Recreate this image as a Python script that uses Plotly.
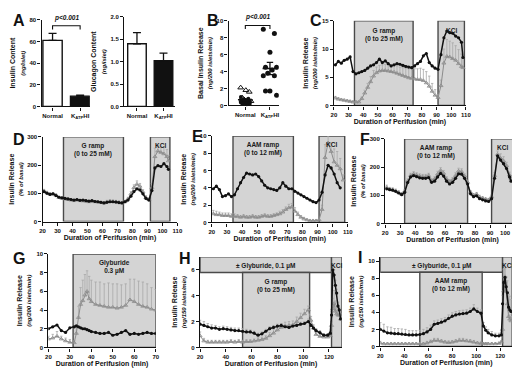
import plotly.graph_objects as go

W, H = 520, 368
FONT = "Liberation Sans, Arial, sans-serif"
BLACK = "#111111"
GRAY = "#8c8c8c"
ERRGRAY = "#a8a8a8"
BOXFILL = "#d4d4d4"
BOXLINE = "#4a4a4a"

# ------------------------------------------------------------------ data
groups = ["Normal", "K<sub>ATP</sub>HI"]
A_insulin = [61, 9.5]
A_insulin_sem = [6.5, 1.0]
A_glucagon = [1.40, 1.02]
A_glucagon_sem = [0.25, 0.17]

B_normal_tri = [2.1, 1.6, 1.8, 0.9, 0.5, 0.3, 0.7]
B_normal_dot = [1.0, 0.8, 0.6, 0.6, 0.5, 0.4, 0.4, 0.35, 0.3, 0.25, 0.2, 0.2, 0.15, 0.6, 0.5]
B_katp = [9.0, 8.5, 6.3, 4.5, 4.5, 4.2, 3.8, 3.5, 3.5, 1.7, 1.7, 1.2]

C_time = [21, 23, 25, 27, 29, 31, 33, 35, 37, 39, 41, 43, 45, 47, 49, 51, 53, 55, 57, 59, 61, 63,
          65, 67, 69, 71, 73, 75, 77, 79, 81, 83, 85, 87, 89, 91, 93, 95, 97, 99, 101, 103, 105, 107, 108]
C_katp = [7.2, 7.8, 7.5, 8.0, 8.2, 8.6, 6.0, 5.6, 5.8, 6.0, 6.2, 6.6, 7.0, 7.2, 7.6, 8.2, 7.6, 7.9, 7.4, 7.0,
          7.2, 7.4, 7.3, 7.1, 6.9, 6.8, 6.7, 7.0, 7.4, 7.8, 8.8, 9.2, 7.6, 7.0, 6.6, 6.4, 9.0, 12.0, 13.2,
          12.9, 12.8, 12.3, 12.0, 11.2, 8.5]
C_normal = [1.3, 1.1, 1.0, 0.9, 0.8, 0.7, 0.6, 0.6, 0.6, 1.2, 2.2, 3.2, 4.2, 5.2, 5.8, 6.1, 6.2, 6.2, 6.1,
            6.0, 5.9, 5.7, 5.5, 5.3, 5.1, 4.9, 4.8, 4.7, 4.6, 4.6, 4.4, 4.0, 3.4, 2.5, 1.8, 1.4, 3.5, 7.5,
            8.7, 8.6, 8.3, 8.0, 7.4, 6.9, 6.7]
C_normal_err = [0.3, 0.3, 0.2, 0.2, 0.2, 0.2, 0.2, 0.2, 0.2, 0.3, 0.5, 0.7, 0.9, 1.0, 1.0, 1.0, 1.0, 1.1,
                1.1, 1.1, 1.2, 1.3, 1.3, 1.4, 1.5, 1.6, 1.7, 1.8, 1.9, 2.0, 2.0, 2.0, 1.8, 1.4, 1.0, 0.5,
                1.0, 2.5, 3.0, 2.8, 2.8, 2.6, 2.5, 2.2, 2.0]

D_time = [21, 23, 25, 27, 29, 31, 33, 35, 37, 39, 41, 43, 45, 47, 49, 51, 53, 55, 57, 59, 61, 63,
          65, 67, 69, 71, 73, 75, 77, 79, 81, 83, 85, 87, 89, 91, 93, 95, 97, 99, 101, 103, 104]
D_katp = [106, 100, 96, 98, 92, 86, 84, 82, 80, 78, 76, 78, 75, 76, 74, 72, 74, 71, 70, 68, 66, 68,
          70, 70, 69, 67, 66, 70, 76, 90, 106, 116, 112, 98, 82, 76, 110, 190, 198, 195, 205, 195, 185]
D_normal = [108, 102, 97, 98, 93, 85, 82, 80, 78, 76, 74, 76, 74, 73, 72, 70, 72, 70, 69, 67, 66, 70,
            72, 71, 70, 68, 66, 70, 80, 98, 120, 132, 125, 105, 85, 78, 120, 230, 250, 245, 240, 230, 215]
D_normal_err = [6, 5, 5, 5, 5, 4, 4, 4, 4, 4, 4, 4, 4, 4, 4, 4, 4, 4, 4, 4, 4, 5, 5, 5, 5, 4, 4, 5,
                6, 8, 10, 12, 10, 8, 6, 5, 15, 30, 20, 20, 25, 25, 20]

E_time_k = [21, 23, 25, 27, 29, 31, 33, 35, 37, 39, 41, 43, 45, 47, 49, 51, 53, 55, 57, 59, 61, 63,
            65, 67, 69, 71, 73, 75, 77, 79, 81, 83, 85, 87, 89, 91, 93, 95, 97, 99, 101, 103, 105]
E_katp = [3.9, 4.2, 3.8, 3.0, 3.1, 3.3, 3.0, 3.2, 3.9, 4.6, 5.2, 5.7, 5.6, 5.5, 5.6, 5.3, 4.8, 4.3, 4.0,
          3.9, 3.8, 3.7, 4.0, 4.6, 4.2, 3.9, 3.9, 3.6, 3.4, 3.2, 3.0, 2.8, 2.6, 2.4, 2.3, 2.6, 3.5, 5.5,
          6.6, 6.3, 5.6, 4.6, 4.0]
E_time_n = [21, 23, 25, 27, 29, 31, 33, 35, 37, 39, 41, 43, 45, 47, 49, 51, 53, 55, 57, 59, 61, 63,
            65, 67, 69, 71, 73, 75, 77, 79, 81, 83, 85, 87, 89, 91, 93, 95, 97, 99, 101, 103, 105, 107]
E_normal = [1.0, 0.9, 0.9, 0.8, 0.8, 0.8, 0.7, 0.7, 0.7, 0.6, 0.7, 0.6, 0.6, 0.7, 0.6, 0.6, 0.7, 0.8,
            0.7, 0.7, 0.8, 0.9, 1.0, 1.2, 1.5, 1.7, 1.8, 1.3, 0.9, 0.6, 0.4, 0.3, 0.2, 0.2, 0.2, 0.3,
            1.5, 7.5, 9.2, 8.2, 7.0, 6.6, 6.2, 4.9]
E_normal_err = [0.4, 0.4, 0.3, 0.3, 0.3, 0.3, 0.3, 0.3, 0.2, 0.2, 0.2, 0.2, 0.2, 0.2, 0.2, 0.2, 0.2,
                0.2, 0.2, 0.2, 0.2, 0.2, 0.3, 0.3, 0.3, 0.4, 0.4, 0.4, 0.3, 0.2, 0.2, 0.1, 0.1, 0.1,
                0.1, 0.1, 0.5, 1.5, 0.8, 1.0, 1.5, 1.6, 1.2, 0.6]

F_time = [21, 23, 25, 27, 29, 31, 33, 35, 37, 39, 41, 43, 45, 47, 49, 51, 53, 55, 57, 59, 61, 63,
          65, 67, 69, 71, 73, 75, 77, 79, 81, 83, 85, 87, 89, 91, 93, 95, 97, 99, 101, 103, 104]
F_katp = [123, 120, 118, 114, 108, 102, 110, 145, 165, 170, 166, 162, 160, 160, 163, 146, 150, 165,
          178, 168, 150, 140, 146, 160, 176, 175, 160, 140, 105, 95, 98, 88, 84, 80, 78, 88, 160, 240,
          225, 212, 195, 165, 150]
F_normal = [128, 122, 120, 116, 110, 104, 114, 150, 170, 176, 172, 168, 166, 166, 170, 152, 158, 175,
            188, 178, 158, 148, 155, 170, 186, 184, 168, 146, 110, 100, 104, 94, 90, 86, 84, 95, 170,
            245, 232, 222, 205, 172, 158]
F_normal_err = [8, 6, 6, 6, 6, 6, 6, 8, 8, 8, 8, 8, 8, 8, 8, 8, 8, 10, 10, 10, 8, 8, 8, 10, 10, 10,
                8, 8, 6, 6, 6, 6, 5, 5, 5, 6, 10, 12, 15, 15, 12, 10, 8]

G_time = [20, 22, 24, 26, 28, 30, 32, 33, 34, 35, 36, 37, 38, 39, 40, 42, 44, 46, 48, 50, 52, 54, 56,
          58, 60, 62, 64, 66, 68, 70]
G_katp = [2.0, 2.2, 2.4, 1.8, 1.6, 2.1, 2.2, 2.3, 2.2, 2.1, 2.0, 2.0, 1.9, 1.8, 1.7, 1.6, 1.5, 1.5,
          1.6, 1.3, 1.4, 1.6, 1.8, 1.4, 1.5, 1.4, 1.5, 1.6, 1.5, 1.5]
G_normal = [0.9, 1.0, 1.2, 0.9, 0.7, 0.55, 0.5, 1.5, 3.2, 4.6, 5.0, 5.6, 6.0, 5.2, 4.9, 4.6, 4.5, 4.4,
            4.3, 4.3, 4.2, 4.3, 4.5, 5.1, 4.9, 4.6, 4.4, 4.3, 4.1, 4.0]
G_normal_err = [0.3, 0.4, 0.5, 0.3, 0.3, 0.3, 0.2, 0.6, 1.2, 1.8, 2.2, 2.2, 2.2, 2.4, 2.3, 2.4, 2.5,
                2.4, 2.6, 2.5, 2.6, 2.4, 2.3, 2.2, 2.4, 2.5, 2.6, 2.5, 2.3, 2.2]

H_time = [20, 23, 26, 29, 32, 35, 38, 41, 44, 47, 50, 53, 56, 59, 62, 65, 68, 71, 74, 77, 80, 83, 86,
          89, 92, 95, 98, 101, 104, 106, 108, 110, 113, 116, 119, 121, 122, 123, 124, 125, 126, 127, 128, 129]
H_katp = [1.8, 1.7, 1.6, 1.5, 1.5, 1.4, 1.45, 1.4, 1.35, 1.3, 1.3, 1.25, 1.2, 1.2, 1.1, 0.95, 1.05,
          1.25, 1.45, 1.55, 1.65, 1.7, 1.6, 1.55, 1.65, 1.7, 1.8, 1.85, 2.0, 1.7, 1.5, 1.3, 1.15, 0.95,
          0.95, 1.1, 2.5, 6.0, 5.6, 4.8, 4.2, 3.2, 2.9, 2.2]
H_katp_err = [0.3, 0.3, 0.25, 0.25, 0.2, 0.2, 0.2, 0.2, 0.2, 0.2, 0.2, 0.2, 0.2, 0.15, 0.15, 0.15, 0.15,
              0.15, 0.15, 0.15, 0.15, 0.15, 0.15, 0.15, 0.15, 0.15, 0.15, 0.15, 0.2, 0.15, 0.15, 0.15,
              0.15, 0.1, 0.1, 0.1, 0.3, 0.3, 0.4, 0.4, 0.3, 0.3, 0.2, 0.2]
H_normal = [0.9, 0.5, 0.4, 0.4, 0.4, 0.4, 0.4, 0.4, 0.45, 0.4, 0.45, 0.4, 0.45, 0.45, 0.5, 0.55, 0.6,
            0.7, 0.9, 1.1, 1.35, 1.55, 1.65, 1.7, 1.75, 2.0, 2.3, 2.6, 2.9, 2.1, 1.5, 1.0, 0.85, 0.8,
            0.8, 0.9, 1.7, 3.0, 3.4, 2.8, 2.6, 2.5, 2.5, 2.2]
H_normal_err = [0.3, 0.2, 0.15, 0.15, 0.15, 0.15, 0.15, 0.15, 0.15, 0.15, 0.15, 0.15, 0.15, 0.15, 0.15,
                0.2, 0.2, 0.2, 0.25, 0.3, 0.3, 0.3, 0.3, 0.3, 0.3, 0.35, 0.35, 0.35, 0.3, 0.3, 0.25,
                0.2, 0.15, 0.15, 0.15, 0.15, 0.3, 0.8, 1.0, 0.8, 0.6, 0.5, 0.4, 0.4]

I_time = H_time
I_katp = [2.0, 1.8, 1.6, 1.55, 1.5, 1.5, 1.45, 1.4, 1.35, 1.35, 1.35, 1.4, 1.5, 1.7, 2.0, 2.6, 2.7,
          2.85, 3.0, 3.3, 3.55, 3.7, 3.8, 3.85, 3.9, 4.1, 4.4, 4.1, 3.9, 2.4, 1.9, 1.6, 1.35, 1.25,
          1.25, 1.35, 5.0, 7.5, 8.1, 7.0, 6.3, 4.6, 4.3, 4.1]
I_katp_err = [0.8, 0.8, 0.7, 0.7, 0.6, 0.6, 0.6, 0.6, 0.5, 0.5, 0.5, 0.5, 0.5, 0.5, 0.5, 0.4, 0.4,
              0.4, 0.4, 0.4, 0.4, 0.4, 0.4, 0.4, 0.4, 0.4, 0.5, 0.4, 0.4, 0.4, 0.4, 0.4, 0.4, 0.3,
              0.3, 0.3, 1.0, 1.5, 1.0, 1.2, 1.4, 1.5, 1.6, 1.4]
I_normal = [0.4, 0.3, 0.3, 0.3, 0.3, 0.3, 0.3, 0.3, 0.3, 0.3, 0.3, 0.3, 0.3, 0.4, 0.55, 0.7, 0.7,
            0.6, 0.5, 0.45, 0.5, 0.6, 0.7, 0.7, 0.65, 0.6, 0.5, 0.4, 0.35, 0.3, 0.3, 0.3, 0.3, 0.3,
            0.35, 0.5, 2.0, 6.5, 8.2, 6.5, 5.0, 3.5, 3.2, 3.0]
I_normal_err = [0.2, 0.15, 0.15, 0.15, 0.15, 0.15, 0.15, 0.15, 0.15, 0.15, 0.15, 0.15, 0.15, 0.2, 0.2,
                0.25, 0.25, 0.2, 0.2, 0.2, 0.2, 0.2, 0.25, 0.25, 0.2, 0.2, 0.2, 0.15, 0.15, 0.15, 0.15,
                0.15, 0.15, 0.15, 0.15, 0.2, 0.5, 1.0, 1.0, 1.0, 0.8, 0.7, 0.5, 0.5]

# ------------------------------------------------------------------ layout helpers
# panel: axis index, pixel box (left, right, top, bottom), x range, y range, x dtick, y dtick
P = {
    "A1": (1, (31, 80, 9, 97), [-0.4, 1.35], [0, 80], None, 20),
    "A2": (2, (115, 167, 6, 97), [-0.48, 1.45], [0, 2], None, 0.5),
    "B": (3, (221, 272, 10, 96), [-0.68, 1.36], [0, 10], None, 2),
    "C": (4, (328, 462, 10, 96), [20, 110], [0, 15], 10, 5),
    "D": (5, (32, 169, 128, 214), [20, 110], [0, 300], 10, 100),
    "E": (6, (204, 342, 127, 215), [20, 110], [0, 10], 10, 2),
    "F": (7, (380, 517, 130, 216), [20, 110], [0, 300], 10, 100),
    "G": (8, (38, 147, 247, 342), [20, 70], [0, 10], 10, 2),
    "H": (9, (192, 336, 250, 342), [20, 130], [0, 7], 20, 2),
    "I": (10, (375, 509, 250, 341), [20, 130], [0, 10.5], 20, 2),
}

def sfx(i):
    return "" if i == 1 else str(i)

def xr(p):
    return "x" + sfx(P[p][0])

def yr(p):
    return "y" + sfx(P[p][0])

TICKFONT = dict(family=FONT, size=6, color=BLACK, weight="bold")
TITLEFONT = dict(family=FONT, size=7, color=BLACK)

def ytitle(main, sub):
    return "<b>%s</b><br><b><i><span style='font-size:6px'>%s</span></i></b>" % (main, sub)

YT = {
    "A1": ytitle("Insulin Content", "(ng/islet)"),
    "A2": ytitle("Glucagon Content", "(ng/islet)"),
    "B": ytitle("Basal Insulin Release", "(ng/200 islets/min)"),
    "C": ytitle("Insulin Release", "(ng/200 islets/min)"),
    "D": ytitle("Insulin Release", "(% of basal)"),
    "E": ytitle("Insulin Release", "(ng/200 islets/min)"),
    "F": ytitle("Insulin Release", "(% of basal)"),
    "G": ytitle("Insulin Release", "(ng/200 islets/min)"),
    "H": ytitle("Insulin Release", "(ng/150 islets/min)"),
    "I": ytitle("Insulin Release", "(ng/150 islets/min)"),
}

fig = go.Figure()
layout = {}
for name, (i, (l, r, t, b), xrng, yrng, xdt, ydt) in P.items():
    common = dict(showline=True, linecolor=BLACK, linewidth=1.3, ticks="outside", ticklen=3,
                  tickwidth=1.1, tickcolor=BLACK, showgrid=False, zeroline=False,
                  tickfont=TICKFONT, fixedrange=True)
    xa = dict(common, domain=[l / W, r / W], range=xrng, anchor="y" + sfx(i))
    if xdt is None:
        xa.update(tickmode="array", tickvals=[0, 1], ticktext=["<b>%s</b>" % g for g in groups])
    else:
        xa.update(tick0=20, dtick=xdt,
                  title=dict(text="<b>Duration of Perifusion (min)</b>", font=TITLEFONT, standoff=0))
    ya = dict(common, domain=[1 - b / H, 1 - t / H], range=yrng, anchor="x" + sfx(i),
              tick0=0, dtick=ydt, title=dict(text=YT[name], font=TITLEFONT, standoff=3))
    if name == "A2":
        ya["tickformat"] = ".1f"
    layout["xaxis" + sfx(i)] = xa
    layout["yaxis" + sfx(i)] = ya

shapes = []
annots = []

def box(p, x0, x1, y0, y1):
    shapes.append(dict(type="rect", xref=xr(p), yref=yr(p), x0=x0, x1=x1, y0=y0, y1=y1,
                       fillcolor=BOXFILL, line=dict(color=BOXLINE, width=1.4), layer="below"))

def boxlabel(p, x, y, text, size=6.5):
    annots.append(dict(xref=xr(p), yref=yr(p), x=x, y=y, text="<b>%s</b>" % text, showarrow=False,
                       yanchor="top", xanchor="center",
                       font=dict(family=FONT, size=size, color="#1a1a1a")))

# ------------------------------------------------------------------ A: bars
for p, vals, sems in (("A1", A_insulin, A_insulin_sem), ("A2", A_glucagon, A_glucagon_sem)):
    fig.add_trace(go.Bar(x=[0, 1], y=vals, width=0.7, xaxis=xr(p), yaxis=yr(p),
                         marker=dict(color=["white", BLACK], line=dict(color=BLACK, width=1.4)),
                         error_y=dict(type="data", symmetric=False, array=sems, arrayminus=[0, 0],
                                      color=BLACK, thickness=1.3, width=4),
                         showlegend=False, hoverinfo="skip"))

def bracket(p, ytop, leg, ytext):
    shapes.append(dict(type="path", xref=xr(p), yref=yr(p),
                       path="M 0,%g L 0,%g L 1,%g L 1,%g" % (ytop - leg, ytop, ytop, ytop - leg),
                       line=dict(color=BLACK, width=1.1)))
    annots.append(dict(xref=xr(p), yref=yr(p), x=0.5, y=ytext, text="<b><i>p<0.001</i></b>",
                       showarrow=False, yanchor="bottom",
                       font=dict(family=FONT, size=6.5, color=BLACK)))

bracket("A1", 74.5, 3.5, 76)

# ------------------------------------------------------------------ B: dot plot
def jitter(n, spread):
    return [((k * 5) % 7 - 3) * spread for k in range(n)]

jt = jitter(len(B_normal_tri), 0.07)
jd = jitter(len(B_normal_dot), 0.06)
jk = jitter(len(B_katp), 0.09)
fig.add_trace(go.Scatter(x=jd, y=B_normal_dot, mode="markers", xaxis=xr("B"), yaxis=yr("B"),
                         marker=dict(symbol="circle", size=4, color=BLACK), showlegend=False,
                         cliponaxis=False))
fig.add_trace(go.Scatter(x=[v + 0.02 for v in jt], y=B_normal_tri, mode="markers", xaxis=xr("B"),
                         yaxis=yr("B"), marker=dict(symbol="triangle-up-open", size=5, color=BLACK,
                                                    line=dict(width=1)),
                         showlegend=False, cliponaxis=False))
fig.add_trace(go.Scatter(x=[1 + v for v in jk], y=B_katp, mode="markers", xaxis=xr("B"), yaxis=yr("B"),
                         marker=dict(symbol="circle", size=5, color=BLACK), showlegend=False))

def mean_sem(v):
    n = len(v)
    m = sum(v) / n
    sd = (sum((a - m) ** 2 for a in v) / (n - 1)) ** 0.5
    return m, sd / n ** 0.5

for xc, vals in ((0, B_normal_tri + B_normal_dot), (1, B_katp)):
    m, s = mean_sem(vals)
    fig.add_trace(go.Scatter(
        x=[xc - 0.3, xc + 0.3, None, xc, xc, None, xc - 0.13, xc + 0.13, None, xc - 0.13, xc + 0.13],
        y=[m, m, None, m - s, m + s, None, m + s, m + s, None, m - s, m - s],
        mode="lines", line=dict(color=BLACK, width=1.3), xaxis=xr("B"), yaxis=yr("B"),
        showlegend=False, hoverinfo="skip"))

bracket("B", 9.45, 0.4, 9.7)

# ------------------------------------------------------------------ time courses
def series(p, t, katp, normal, nerr, kerr=None, tk=None):
    fig.add_trace(go.Scatter(
        x=t, y=normal, mode="lines+markers", xaxis=xr(p), yaxis=yr(p), showlegend=False,
        line=dict(color=GRAY, width=1),
        marker=dict(symbol="triangle-up-open", size=3.6, color=GRAY, line=dict(width=0.8)),
        error_y=dict(type="data", symmetric=False, array=nerr, arrayminus=[0] * len(nerr),
                     color=ERRGRAY, thickness=0.8, width=1.2)))
    if tk is None:
        tk = t
    ek = None
    if kerr is not None:
        ek = dict(type="data", symmetric=False, array=kerr, arrayminus=[0] * len(kerr),
                  color=ERRGRAY, thickness=0.8, width=1.2)
    fig.add_trace(go.Scatter(
        x=tk, y=katp, mode="lines+markers", xaxis=xr(p), yaxis=yr(p), showlegend=False,
        line=dict(color=BLACK, width=1.5),
        marker=dict(symbol="circle", size=3.2, color=BLACK), error_y=ek))

# boxes (drawn below traces)
box("C", 34, 74, 0, 15)
box("C", 91, 109, 0, 15)
boxlabel("C", 54, 14.3, "G ramp<br>(0 to 25 mM)")
boxlabel("C", 100, 14.3, "KCl")

box("D", 34, 74, 0, 300)
box("D", 92, 105, 0, 300)
boxlabel("D", 54, 288, "G ramp<br>(0 to 25 mM)")
boxlabel("D", 98.5, 288, "KCl")

box("E", 34, 74, 0, 10)
box("E", 91, 108, 0, 10)
boxlabel("E", 54, 9.6, "AAM ramp<br>(0 to 12 mM)")
boxlabel("E", 99.5, 9.6, "KCl")

box("F", 33, 75, 0, 300)
box("F", 91, 106, 0, 300)
boxlabel("F", 54, 288, "AAM ramp<br>(0 to 12 mM)")
boxlabel("F", 98.5, 288, "KCl")

box("G", 31.5, 70, 0, 10)
boxlabel("G", 50.75, 9.7, "Glyburide<br>0.3 µM")

box("H", 20, 122, 5.8, 7)
box("H", 53, 105, 0, 5.8)
box("H", 122, 130, 0, 7)
boxlabel("H", 71, 6.75, "± Glyburide, 0.1 µM")
boxlabel("H", 79, 5.55, "G ramp<br>(0 to 25 mM)")
boxlabel("H", 126, 6.75, "KCl")

box("I", 20, 122, 8.7, 10.5)
box("I", 53, 105, 0, 8.7)
box("I", 122, 130, 0, 10.5)
boxlabel("I", 71, 10.15, "± Glyburide, 0.1 µM")
boxlabel("I", 79, 8.35, "AAM ramp<br>(0 to 12 mM)")
boxlabel("I", 126, 10.15, "KCl")

series("C", C_time, C_katp, C_normal, C_normal_err)
series("D", D_time, D_katp, D_normal, D_normal_err)
series("E", E_time_n, E_katp, E_normal, E_normal_err, tk=E_time_k)
series("F", F_time, F_katp, F_normal, F_normal_err)
series("G", G_time, G_katp, G_normal, G_normal_err)
series("H", H_time, H_katp, H_normal, H_normal_err, H_katp_err)
series("I", I_time, I_katp, I_normal, I_normal_err, I_katp_err)

# ------------------------------------------------------------------ panel letters
for letter, px, py in (("A", 0, -1), ("B", 197, -1), ("C", 302, -1), ("D", 0, 120), ("E", 182, 117),
                       ("F", 352, 120), ("G", 0, 241), ("H", 169, 241), ("I", 350, 240)):
    annots.append(dict(xref="paper", yref="paper", x=px / W, y=1 - py / H, text="<b>%s</b>" % letter,
                       showarrow=False, xanchor="left", yanchor="top",
                       font=dict(family=FONT, size=16, color=BLACK)))

fig.update_layout(
    width=W, height=H, autosize=False, margin=dict(l=0, r=0, t=0, b=0),
    paper_bgcolor="white", plot_bgcolor="white", showlegend=False,
    shapes=shapes, annotations=annots, font=dict(family=FONT, color=BLACK), **layout)

fig.write_html("out.html")
